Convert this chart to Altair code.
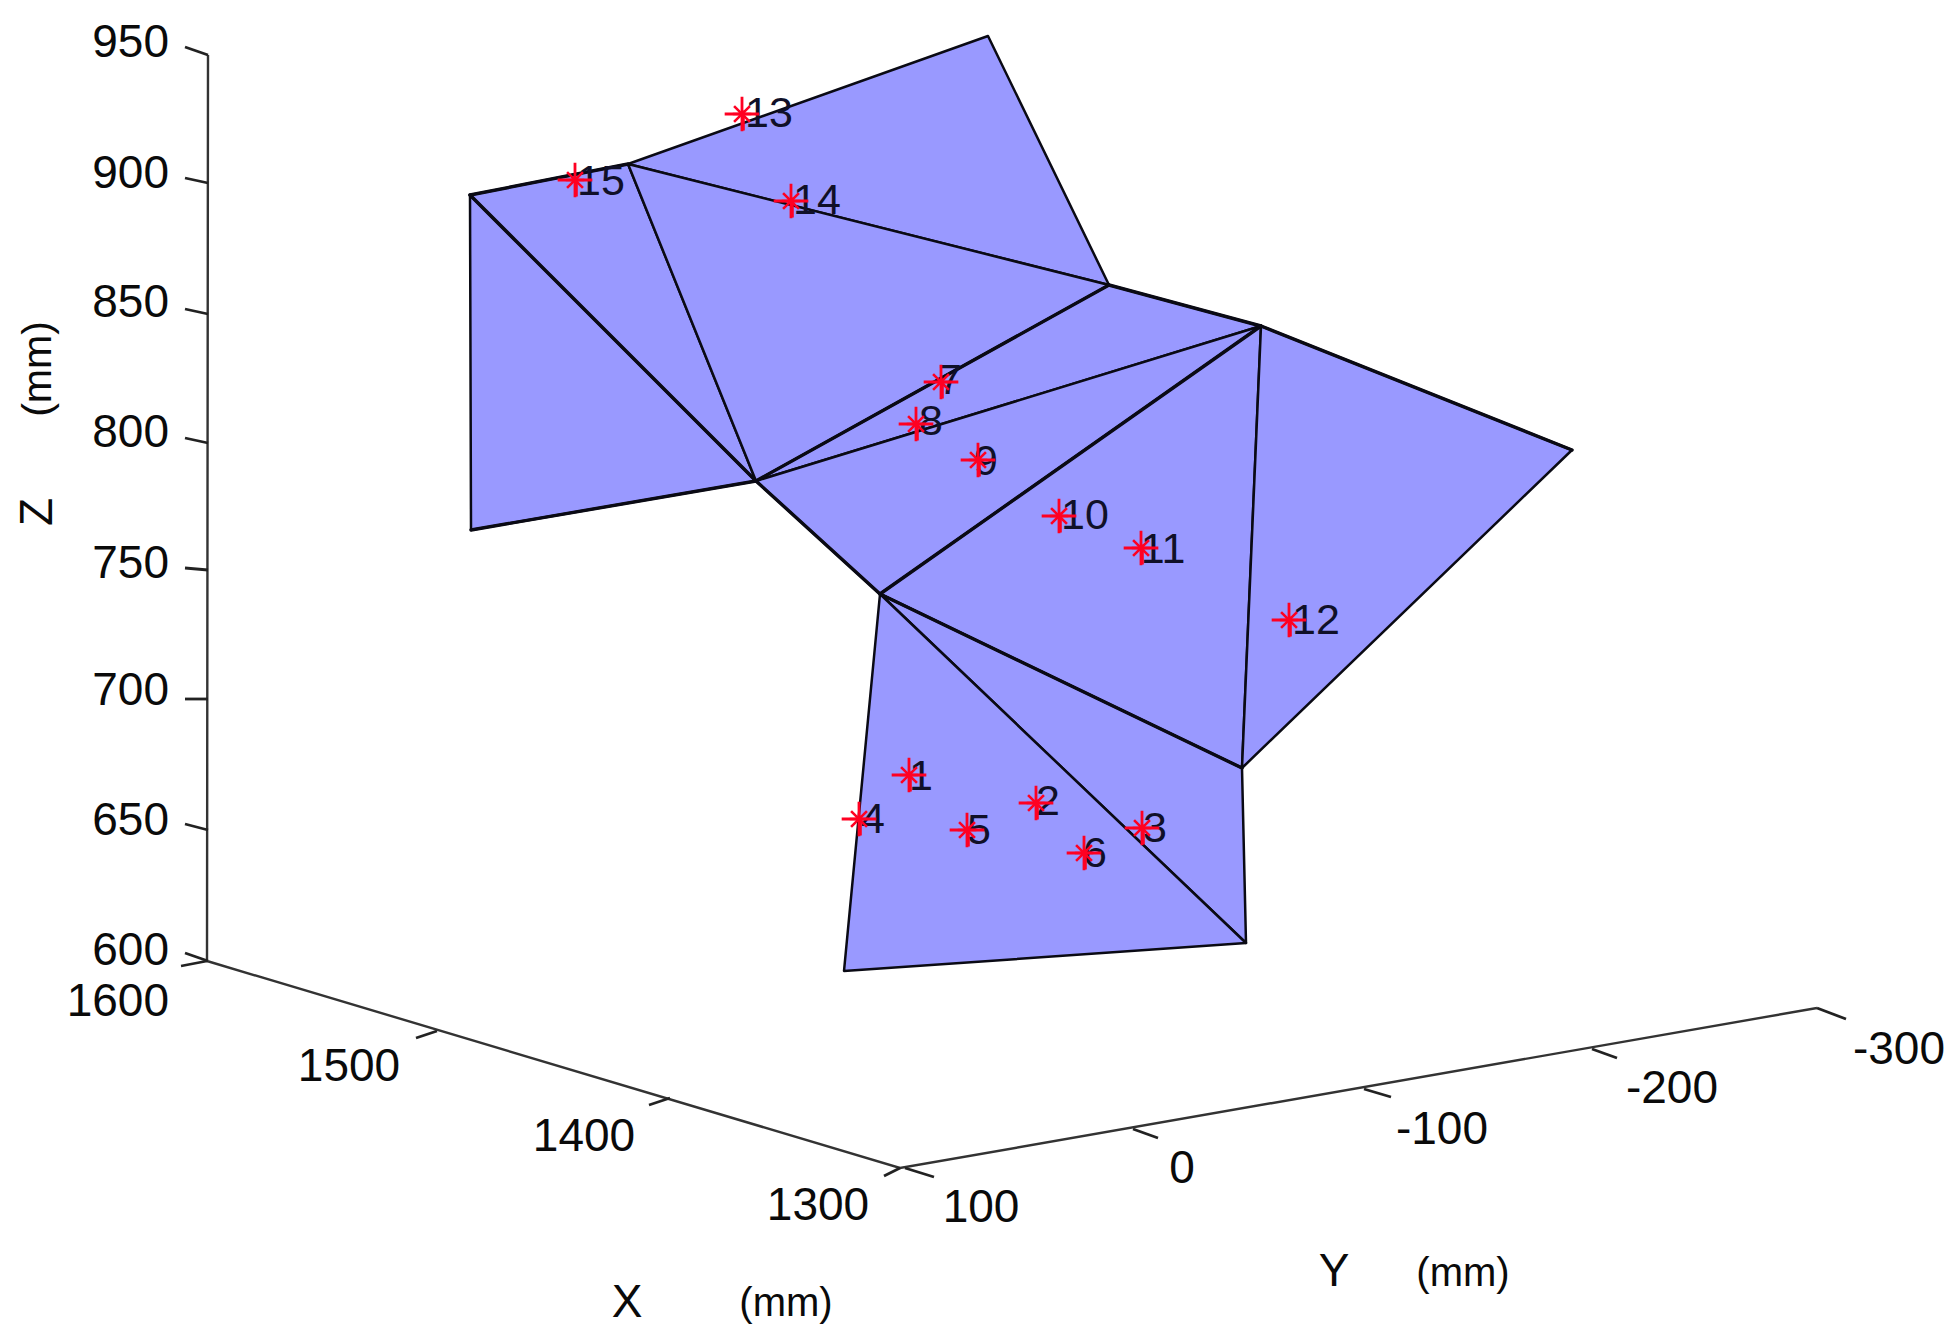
import altair as alt
import pandas as pd

FONT = "Liberation Sans"
# mesh vertices (projected position)
verts = {
    "A": (470, 195), "B": (628, 164), "C": (988, 36), "D": (1109, 285),
    "E": (1261, 326), "F": (1572, 450), "G": (1242, 768), "H": (1246, 943),
    "I": (844, 971), "J": (880, 594), "K": (756, 481), "L": (471, 530),
}
faces = ["AKL", "ABK", "BCD", "BDK", "KDE", "KEJ", "JEG", "EFG", "JGH", "JHI"]
heavy_edges = ["KD", "JG", "AK", "DE", "EF", "KJ", "JE", "KL", "AB"]

# measurement points
pt_id = list(range(1, 16))
pt_x = [909, 1036, 1142, 859, 967, 1084, 941, 916, 978, 1059, 1141, 1289, 742, 791, 575]
pt_y = [775, 803, 828, 819, 830, 853, 382, 424, 460, 516, 548, 620, 114, 201, 180]
lab_x = [921, 1048, 1155, 873, 979, 1095, 950, 931, 986, 1085, 1163, 1316, 769, 817, 601]
lab_y = [777, 802, 829, 820, 831, 854, 381, 422, 462, 516, 550, 621, 114, 201, 182]

# axes
axis_x = [208, 207, 900, 1817]
axis_y = [55, 961, 1168, 1008]
z_ticks = [950, 900, 850, 800, 750, 700, 650, 600]
z_tick_x = [[185, 208]] * 8
z_tick_y = [[47, 55], [178, 183], [309, 314], [438, 443], [568, 570], [699, 699], [824, 830], [953, 961]]
z_label_y = [43, 174, 303, 433, 564, 691, 821, 951]
x_ticks = ["1600", "1500", "1400", "1300"]
x_tick_x = [[181, 207], [416, 437], [649, 670], [884, 900]]
x_tick_y = [[966, 961], [1038, 1031], [1105, 1098], [1176, 1168]]
x_label_x = [169, 349, 584, 818]
x_label_y = [1002, 1067, 1137, 1206]
y_ticks = ["100", "0", "-100", "-200", "-300"]
y_tick_x = [[905, 934], [1133, 1158], [1364, 1391], [1592, 1617], [1817, 1846]]
y_tick_y = [[1168, 1177], [1129, 1138], [1089, 1097], [1049, 1058], [1008, 1019]]
y_label_x = [981, 1182, 1442, 1672, 1899]
y_label_y = [1208, 1169, 1130, 1089, 1050]

X = alt.X("x:Q", scale=alt.Scale(domain=[8, 1952]), axis=None)
Y = alt.Y("y:Q", scale=alt.Scale(domain=[1318, 8]), axis=None)

face_rows = []
for f in faces:
    for i, v in enumerate(f + f[0]):
        face_rows.append({"face": f, "i": i, "x": verts[v][0], "y": verts[v][1]})
faces_layer = alt.Chart(pd.DataFrame(face_rows)).mark_line(
    fill="#9999ff", stroke="#0a0a14", strokeWidth=2.5, strokeJoin="round", clip=False
).encode(x=X, y=Y, detail="face:N", order="i:Q")

edge_rows = []
for e in heavy_edges:
    for i, v in enumerate(e):
        edge_rows.append({"edge": e, "i": i, "x": verts[v][0], "y": verts[v][1]})
heavy_layer = alt.Chart(pd.DataFrame(edge_rows)).mark_line(
    stroke="#0a0a14", strokeWidth=3.4, strokeCap="round"
).encode(x=X, y=Y, detail="edge:N", order="i:Q")

axis_layer = alt.Chart(pd.DataFrame({"x": axis_x, "y": axis_y, "i": range(4)})).mark_line(
    stroke="#333333", strokeWidth=2.4
).encode(x=X, y=Y, order="i:Q")

tick_rows = []
for name, xs, ys in [("z", z_tick_x, z_tick_y), ("x", x_tick_x, x_tick_y), ("y", y_tick_x, y_tick_y)]:
    for n, (a, b) in enumerate(zip(xs, ys)):
        tick_rows.append({"t": f"{name}{n}", "i": 0, "x": a[0], "y": b[0]})
        tick_rows.append({"t": f"{name}{n}", "i": 1, "x": a[1], "y": b[1]})
tick_layer = alt.Chart(pd.DataFrame(tick_rows)).mark_line(stroke="#222222", strokeWidth=2.8).encode(
    x=X, y=Y, detail="t:N", order="i:Q"
)

def labels(texts, xs, ys, align, size=46, angle=0, color="#0a0a0a"):
    df = pd.DataFrame({"t": [str(t) for t in texts], "x": xs, "y": ys})
    kw = {"angle": angle} if angle else {}
    return alt.Chart(df).mark_text(
        font=FONT, fontSize=size, align=align, baseline="middle", color=color, **kw
    ).encode(x=X, y=Y, text="t:N")

z_labels = labels(z_ticks, [169] * 8, z_label_y, "right")
x_labels = labels(x_ticks[:1], x_label_x[:1], x_label_y[:1], "right")
x_labels2 = labels(x_ticks[1:], x_label_x[1:], x_label_y[1:], "center")
y_labels = labels(y_ticks, y_label_x, y_label_y, "center")

pt_labels = labels(pt_id, lab_x, lab_y, "center", size=43, color="#101028")

marks = pd.DataFrame({"x": pt_x, "y": pt_y})
PLUS = "M-1,0L1,0M0,-1L0,1M0.08,-0.2L0.08,0.95"
STAR = "M-0.6,-0.6L0.6,0.6M-0.6,0.6L0.6,-0.6M-0.7,0L0.7,0"
plus_layer = alt.Chart(marks).mark_point(
    shape=PLUS, size=1200, stroke="#ff0022", strokeWidth=2.8, filled=False, opacity=1
).encode(x=X, y=Y)
star_layer = alt.Chart(marks).mark_point(
    shape=STAR, size=700, stroke="#ff0022", strokeWidth=2.6, filled=False, opacity=1
).encode(x=X, y=Y)

title_z = labels(["Z"], [38], [512], "center", size=46, angle=270)
unit_z = labels(["(mm)"], [39], [369], "center", size=41, angle=270)
title_x = labels(["X"], [627], [1303], "center", size=46)
unit_x = labels(["(mm)"], [786], [1304], "center", size=40)
title_y = labels(["Y"], [1334], [1272], "center", size=46)
unit_y = labels(["(mm)"], [1463], [1274], "center", size=40)

chart = alt.layer(
    faces_layer, heavy_layer, axis_layer, tick_layer, z_labels, x_labels, x_labels2, y_labels,
    pt_labels, plus_layer, star_layer,
    title_z, unit_z, title_x, unit_x, title_y, unit_y,
).properties(width=1944, height=1310, padding=0, background="white").configure_view(stroke=None)

chart.save("out.html", embed_options={"renderer": "svg", "actions": False})
